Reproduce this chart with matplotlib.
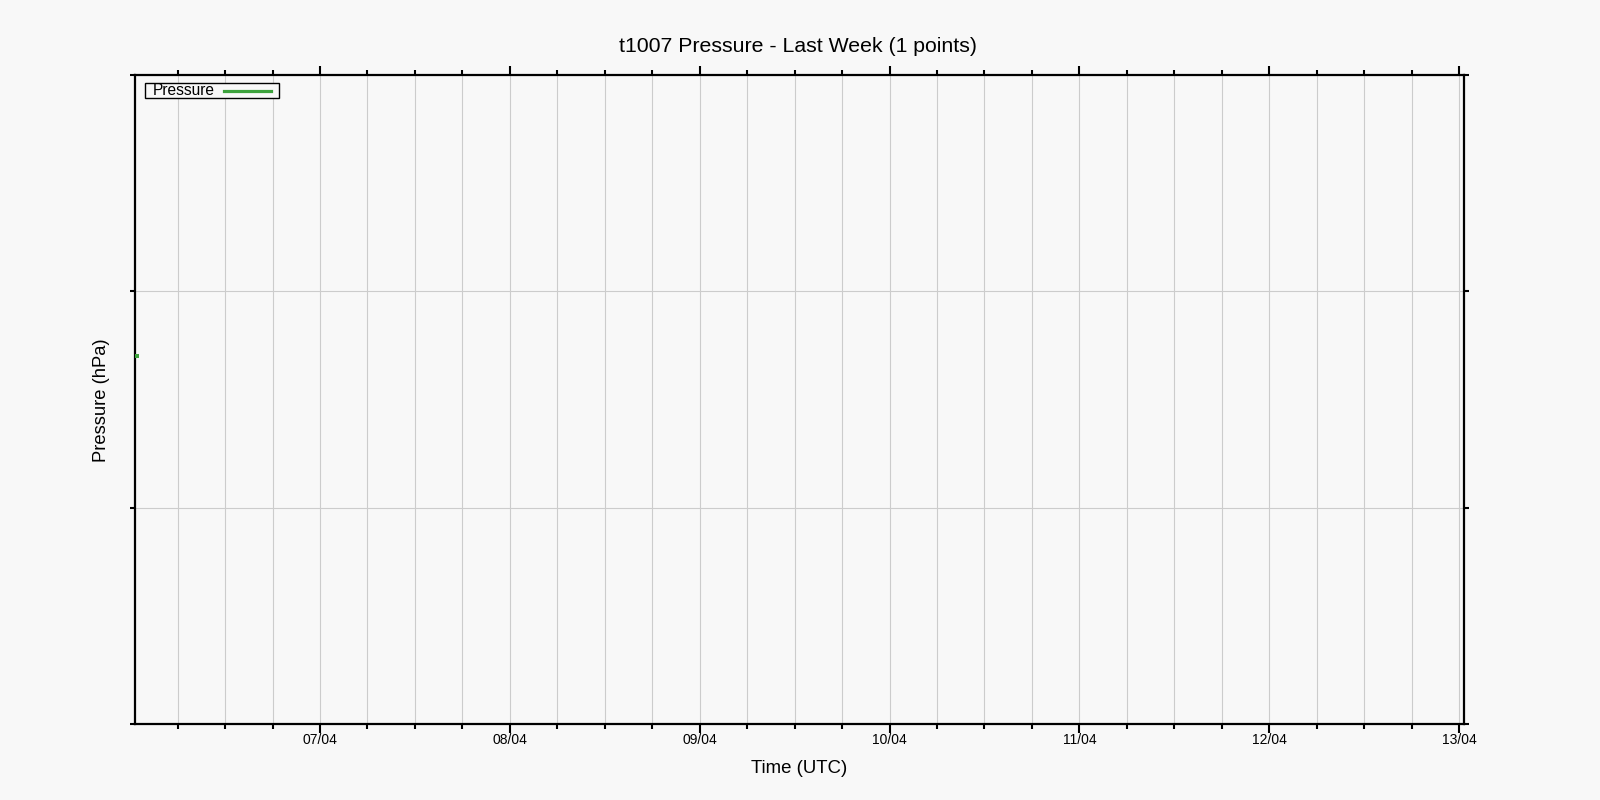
from datetime import datetime
import matplotlib
matplotlib.use("Agg")
import matplotlib.pyplot as plt
import matplotlib.dates as mdates
from matplotlib.patches import Rectangle
from matplotlib.lines import Line2D

# data
station = "t1007"
times = [datetime(2025, 4, 6, 0, 50)]
pressure = [1013.7]
x_start = datetime(2025, 4, 6, 0, 37)
x_end = datetime(2025, 4, 13, 0, 37)
y_ticks = [1012, 1013, 1014, 1015]

bg = "#f8f8f8"
green = "#3da23d"
W, H = 1600, 800

plt.rcParams["font.family"] = ["Liberation Sans", "DejaVu Sans"]

fig = plt.figure(figsize=(16, 8), dpi=100, facecolor=bg)
ax = fig.add_axes([135 / W, 1 - 724 / H, (1464 - 135) / W, (724 - 75) / H],
                  facecolor=bg)

line, = ax.plot(times, pressure, color=green, linewidth=2.5, marker="s",
                markersize=2.2, markeredgewidth=0, label="Pressure",
                zorder=3)

ax.set_xlim(x_start, x_end)
ax.set_ylim(y_ticks[0], y_ticks[-1])
ax.set_yticks(y_ticks)
ax.set_yticklabels([])

ax.xaxis.set_major_locator(mdates.DayLocator())
ax.xaxis.set_minor_locator(mdates.HourLocator(byhour=[6, 12, 18]))
ax.xaxis.set_major_formatter(mdates.DateFormatter("%d/%m"))

ax.tick_params(axis="x", which="major", direction="out", length=6.5, width=1.5,
               top=True, labelsize=10, pad=0.3, color="black")
ax.tick_params(axis="x", which="minor", direction="out", length=3.4, width=1.5,
               top=True, color="black")
ax.tick_params(axis="y", which="major", direction="out", length=3.6, width=1.5,
               right=True, color="black")

ax.grid(True, which="both", axis="x", color="#cccccc", linewidth=0.8)
ax.grid(True, which="major", axis="y", color="#cccccc", linewidth=0.8)

for s in ax.spines.values():
    s.set_linewidth(1.6)
    s.set_color("black")

# key box, gnuplot style: label first, sample line after it
fig.add_artist(Rectangle((144.5 / W, 1 - 98.3 / H), 134 / W, 15 / H,
                         transform=fig.transFigure, facecolor=bg,
                         edgecolor="black", linewidth=1.0))
fig.text(153 / W, 1 - 95 / H, line.get_label(), ha="left", va="baseline",
         fontsize=11.2)
fig.add_artist(Line2D([224 / W, 271 / W], [1 - 91.3 / H, 1 - 91.3 / H],
                      transform=fig.transFigure, color=line.get_color(),
                      linewidth=2.3))

fig.text(798 / W, 1 - 51.7 / H, f"{station} Pressure - Last Week ({len(times)} points)",
         ha="center", va="baseline", fontsize=15.3)
fig.text(799 / W, 1 - 773.3 / H, "Time (UTC)", ha="center", va="baseline",
         fontsize=13.4)
fig.text(101 / W, 0.5, "Pressure (hPa)", ha="center", va="center",
         rotation=90, fontsize=13.2)

fig.savefig("out.png", dpi=100, facecolor=bg)
